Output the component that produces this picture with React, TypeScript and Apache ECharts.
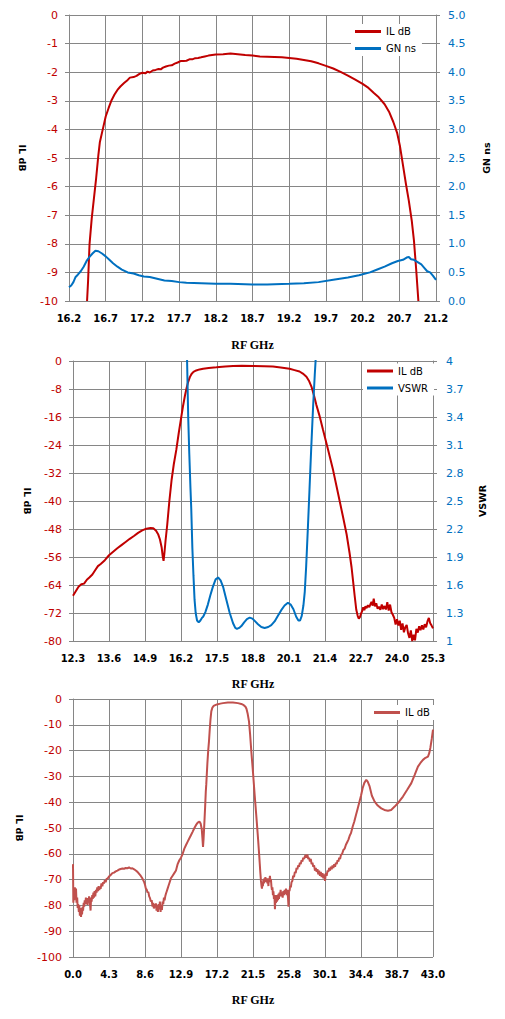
import React, { useEffect, useRef } from "react";
import * as echarts from "echarts";

// ---------- DATA ----------
// Chart 1: passband detail (RF GHz vs IL dB / group delay ns)
const topX0 = 16.2;
const topIL: [number, number][] = [
  [16.446, -10], [16.46, -9.3], [16.48, -8.0], [16.51, -7.1], [16.54, -6.4], [16.57, -5.7], [16.6, -4.9],
  [16.62, -4.45], [16.66, -4.0], [16.7, -3.55], [16.74, -3.25], [16.78, -2.98], [16.82, -2.78], [16.86, -2.62],
  [16.9, -2.5], [16.95, -2.38], [17.0, -2.27], [17.03, -2.19], [17.08, -2.17], [17.12, -2.13], [17.16, -2.06],
  [17.2, -2.02], [17.24, -2.04], [17.27, -1.98], [17.3, -2.01], [17.34, -1.94], [17.38, -1.92], [17.42, -1.89],
  [17.45, -1.9], [17.48, -1.84], [17.52, -1.8], [17.56, -1.77], [17.6, -1.76], [17.64, -1.7], [17.68, -1.66],
  [17.72, -1.61], [17.76, -1.61], [17.8, -1.6], [17.84, -1.55], [17.88, -1.55], [17.92, -1.51], [17.96, -1.5],
  [18.0, -1.48], [18.05, -1.45], [18.1, -1.42], [18.15, -1.4], [18.2, -1.38], [18.3, -1.37], [18.4, -1.35],
  [18.5, -1.37], [18.6, -1.4], [18.7, -1.42], [18.8, -1.45], [18.9, -1.46], [19.0, -1.47], [19.1, -1.48],
  [19.2, -1.5], [19.3, -1.53], [19.4, -1.57], [19.5, -1.62], [19.6, -1.69], [19.7, -1.78], [19.8, -1.87],
  [19.9, -1.99], [20.0, -2.12], [20.1, -2.26], [20.2, -2.41], [20.28, -2.55], [20.35, -2.72], [20.42, -2.88],
  [20.5, -3.12], [20.56, -3.38], [20.62, -3.75], [20.67, -4.12], [20.71, -4.6], [20.75, -5.25], [20.79, -5.9],
  [20.83, -6.5], [20.87, -7.2], [20.9, -7.9], [20.93, -8.9], [20.96, -10],
];
const topGN: [number, number][] = [
  [16.2, 0.24], [16.23, 0.27], [16.26, 0.33], [16.29, 0.42], [16.32, 0.46], [16.36, 0.52], [16.4, 0.6],
  [16.44, 0.7], [16.48, 0.77], [16.52, 0.83], [16.56, 0.88], [16.6, 0.87], [16.65, 0.83], [16.7, 0.78],
  [16.75, 0.72], [16.8, 0.66], [16.86, 0.6], [16.92, 0.55], [17.0, 0.5], [17.08, 0.48], [17.15, 0.45],
  [17.22, 0.43], [17.3, 0.42], [17.4, 0.39], [17.5, 0.36], [17.6, 0.35], [17.7, 0.33], [17.8, 0.32],
  [18.0, 0.31], [18.2, 0.3], [18.4, 0.3], [18.7, 0.29], [18.9, 0.29], [19.2, 0.3], [19.4, 0.31], [19.6, 0.33],
  [19.8, 0.37], [20.0, 0.41], [20.15, 0.45], [20.3, 0.5], [20.4, 0.55], [20.5, 0.6], [20.6, 0.66], [20.68, 0.7],
  [20.75, 0.72], [20.8, 0.76], [20.83, 0.77], [20.86, 0.73], [20.9, 0.72], [20.95, 0.68], [21.0, 0.64],
  [21.04, 0.58], [21.08, 0.52], [21.12, 0.5], [21.16, 0.44], [21.2, 0.37],
];

// Chart 2: wider span (RF GHz vs IL dB / VSWR)
const midX0 = 12.3;
const midVswrMin = 1;
const midIL: [number, number][] = [
  [12.3, -67.1], [12.4, -65.8], [12.5, -64.5], [12.6, -63.8], [12.7, -63.6], [12.8, -62.5], [12.9, -61.8],
  [13.0, -61.0], [13.1, -59.8], [13.2, -58.6], [13.3, -58.0], [13.45, -56.9], [13.6, -55.5], [13.75, -54.5],
  [13.9, -53.5], [14.05, -52.6], [14.2, -51.7], [14.35, -50.8], [14.5, -50.0], [14.65, -49.1], [14.8, -48.4],
  [14.95, -47.9], [15.1, -47.7], [15.2, -47.8], [15.3, -48.5], [15.38, -49.6], [15.44, -51], [15.5, -53.2],
  [15.54, -55.8], [15.57, -57.1], [15.6, -55.0], [15.64, -51.5], [15.7, -47], [15.78, -40], [15.86, -34],
  [15.94, -29.5], [16.03, -25.4], [16.12, -20.5], [16.2, -16.5], [16.27, -13.0], [16.34, -10], [16.4, -7.8],
  [16.45, -6.2], [16.52, -4.6], [16.58, -3.7], [16.65, -3.1], [16.75, -2.7], [16.87, -2.4], [17.0, -2.2],
  [17.2, -2.0], [17.48, -1.8], [17.8, -1.55], [18.08, -1.4], [18.4, -1.35], [18.8, -1.4], [19.2, -1.5],
  [19.52, -1.6], [19.8, -1.85], [20.12, -2.2], [20.3, -2.6], [20.48, -3.0], [20.6, -3.6], [20.73, -4.5],
  [20.83, -5.8], [20.91, -7.3], [21.0, -9.8], [21.09, -12.6], [21.2, -15.6], [21.33, -19.7], [21.5, -25],
  [21.69, -31.1], [21.87, -37.8], [22.05, -44.5], [22.18, -49.5], [22.29, -55], [22.36, -59], [22.41, -62.6],
  [22.47, -67], [22.53, -71.1], [22.58, -72.8], [22.62, -73.6], [22.66, -73.2], [22.7, -72.2], [22.74, -71.5],
  [22.78, -70.4], [22.82, -71.2], [22.86, -70.1], [22.9, -70.6], [22.95, -69.8], [23.0, -70.3], [23.04, -69.5],
  [23.08, -68.8], [23.12, -69.9], [23.16, -67.9], [23.2, -70.1], [23.25, -69.2], [23.3, -70.8], [23.35, -70.2],
  [23.4, -71.1], [23.45, -69.6], [23.5, -70.9], [23.55, -70.0], [23.6, -71.0], [23.65, -68.9], [23.7, -71.3],
  [23.75, -69.6], [23.8, -71.8], [23.85, -72.5], [23.9, -73.4], [23.95, -75.3], [24.0, -73.8], [24.05, -75.6],
  [24.1, -74.2], [24.15, -76.8], [24.2, -75.0], [24.25, -77.5], [24.3, -76.1], [24.35, -75.4], [24.4, -77.8],
  [24.45, -79.1], [24.5, -77.0], [24.55, -80], [24.6, -78.2], [24.65, -79.8], [24.7, -76.5], [24.75, -77.6],
  [24.8, -75.8], [24.85, -76.9], [24.9, -75.5], [24.95, -76.7], [25.0, -75.2], [25.05, -76.1], [25.1, -74.4],
  [25.15, -73.4], [25.2, -74.9], [25.25, -75.6], [25.3, -76.4],
];
const midVSWR: [number, number][] = [
  [16.38, 4.6], [16.42, 4.0], [16.46, 3.4], [16.5, 3.0], [16.54, 2.65], [16.57, 2.42], [16.61, 2.0],
  [16.65, 1.7], [16.69, 1.44], [16.73, 1.3], [16.78, 1.22], [16.84, 1.2], [16.9, 1.22], [16.96, 1.25],
  [17.0, 1.26], [17.08, 1.31], [17.17, 1.39], [17.26, 1.49], [17.35, 1.58], [17.45, 1.66], [17.54, 1.68],
  [17.63, 1.65], [17.72, 1.58], [17.84, 1.44], [17.96, 1.3], [18.08, 1.19], [18.16, 1.14], [18.22, 1.13],
  [18.3, 1.14], [18.38, 1.16], [18.48, 1.2], [18.58, 1.235], [18.68, 1.25], [18.78, 1.24], [18.88, 1.21],
  [18.98, 1.18], [19.1, 1.15], [19.22, 1.14], [19.35, 1.15], [19.46, 1.17], [19.58, 1.21], [19.7, 1.27],
  [19.82, 1.33], [19.94, 1.38], [20.06, 1.41], [20.16, 1.39], [20.26, 1.34], [20.36, 1.26], [20.44, 1.22],
  [20.5, 1.22], [20.56, 1.27], [20.62, 1.38], [20.67, 1.53], [20.72, 1.8], [20.78, 2.2], [20.84, 2.62],
  [20.9, 3.05], [20.97, 3.51], [21.03, 3.85], [21.06, 4.0], [21.1, 4.4],
];

// Chart 3: broadband 0-43 GHz IL dB
const botIL: [number, number][] = [
  [0, -64], [0.04, -79], [0.1, -74], [0.16, -78], [0.22, -73], [0.3, -76], [0.36, -73.5], [0.42, -79], [0.5, -77],
  [0.56, -81], [0.62, -79.5], [0.7, -82.5], [0.76, -80], [0.82, -84], [0.9, -82], [0.96, -84.5], [1.02, -81],
  [1.08, -83.5], [1.14, -80.5], [1.2, -82], [1.28, -79], [1.34, -80.5], [1.4, -78], [1.48, -79.5], [1.54, -77],
  [1.6, -78.8], [1.68, -77.2], [1.74, -79.8], [1.8, -77.5], [1.86, -78.5], [1.92, -76.5], [1.98, -78], [2.04, -80],
  [2.1, -82], [2.16, -77], [2.22, -78.5], [2.3, -76], [2.36, -77.5], [2.44, -75], [2.5, -77], [2.58, -74.5],
  [2.66, -76.5], [2.74, -74], [2.82, -75], [2.9, -73], [2.98, -74.5], [3.06, -72.5], [3.14, -74], [3.22, -72.8],
  [3.3, -73.6], [3.4, -71.5], [3.5, -72.6], [3.6, -71], [3.7, -71.5], [3.8, -70.3], [3.9, -71], [4.0, -69.8],
  [4.15, -69.5], [4.3, -68.8], [4.5, -68.2], [4.7, -67.5], [4.9, -67.3], [5.1, -66.8], [5.3, -66.5], [5.5, -66.1],
  [5.7, -65.9], [5.9, -65.7], [6.1, -65.8], [6.3, -65.5], [6.5, -65.6], [6.7, -65.3], [6.9, -65.7], [7.1, -65.6],
  [7.3, -66], [7.5, -66.5], [7.7, -67], [7.9, -67.8], [8.1, -68.6], [8.3, -69.6], [8.5, -71], [8.6, -72],
  [8.7, -73.5], [8.8, -73.8], [8.9, -75], [9.0, -74.8], [9.1, -76.5], [9.2, -77.2], [9.3, -78.5], [9.4, -78],
  [9.5, -80.5], [9.58, -79], [9.66, -81.2], [9.74, -79.5], [9.82, -80.8], [9.9, -79.2], [9.98, -82], [10.06, -80],
  [10.14, -82.5], [10.22, -79.5], [10.3, -81.5], [10.38, -78.5], [10.46, -82.5], [10.54, -80], [10.62, -81.8],
  [10.7, -78.5], [10.78, -79.5], [10.86, -77], [10.94, -78], [11.02, -76.5], [11.1, -75.5], [11.2, -74.5],
  [11.3, -73.5], [11.4, -72.5], [11.5, -71.5], [11.7, -69.5], [11.9, -68.5], [12.1, -67.5], [12.3, -66.5],
  [12.5, -64], [12.7, -62.5], [12.9, -61.5], [13.1, -60], [13.3, -58], [13.5, -56.6], [13.7, -55.3], [13.9, -54],
  [14.1, -52.7], [14.3, -51.4], [14.5, -50], [14.7, -48.8], [14.9, -47.9], [15.1, -47.5], [15.25, -48.3],
  [15.38, -50.5], [15.46, -54], [15.53, -57.3], [15.6, -54], [15.68, -48.8], [15.78, -42], [15.86, -36],
  [15.92, -33], [16.05, -25], [16.15, -20], [16.24, -16.5], [16.33, -12], [16.42, -8], [16.52, -4.8],
  [16.65, -3.3], [16.8, -2.7], [16.92, -2.5], [17.2, -2.1], [17.6, -1.8], [17.91, -1.6], [18.5, -1.4],
  [19.1, -1.4], [19.7, -1.6], [20.1, -1.9], [20.4, -2.4], [20.6, -3.0], [20.72, -3.8], [20.85, -5.5],
  [21.02, -8.7], [21.15, -13.5], [21.3, -20.3], [21.5, -28.5], [21.7, -37.2], [21.9, -45.5], [22.1, -54],
  [22.25, -61], [22.37, -67], [22.45, -70.5], [22.52, -72.5], [22.57, -73.5], [22.62, -71.5], [22.68, -72.5],
  [22.74, -70], [22.8, -71.5], [22.86, -69.5], [22.92, -71], [22.98, -69], [23.04, -70.5], [23.1, -70.8],
  [23.16, -69.5], [23.22, -71.5], [23.28, -70], [23.34, -72.5], [23.4, -69.5], [23.46, -71], [23.52, -68.5],
  [23.58, -70.5], [23.64, -69.8], [23.7, -72.5], [23.76, -74], [23.82, -73], [23.88, -76], [23.94, -74.5],
  [24.0, -77.5], [24.06, -76], [24.12, -81.5], [24.18, -77], [24.24, -79], [24.3, -76], [24.36, -78.5],
  [24.42, -76.5], [24.48, -78], [24.54, -75.5], [24.6, -77.5], [24.66, -75], [24.72, -76.5], [24.8, -74],
  [24.88, -76.5], [24.96, -75], [25.04, -77], [25.12, -74.5], [25.2, -76], [25.28, -74], [25.36, -75.5],
  [25.44, -73.5], [25.52, -76], [25.6, -74], [25.68, -77], [25.74, -80.5], [25.8, -74], [25.86, -74.5],
  [25.94, -72.5], [26.02, -73], [26.1, -71], [26.2, -70.5], [26.3, -68.5], [26.4, -69], [26.5, -67],
  [26.6, -67.5], [26.7, -65.5], [26.8, -66], [26.9, -64.5], [27.0, -65], [27.1, -63.5], [27.2, -64],
  [27.3, -62.5], [27.4, -63], [27.5, -61.5], [27.6, -62], [27.7, -61], [27.8, -60.5], [27.9, -61.5],
  [28.0, -60.3], [28.1, -62], [28.2, -61.5], [28.3, -63], [28.4, -62], [28.5, -64], [28.6, -63.5], [28.7, -65],
  [28.8, -64.5], [28.9, -66.5], [29.0, -65.5], [29.1, -67], [29.2, -66], [29.3, -68], [29.4, -66.5],
  [29.5, -68.5], [29.6, -67], [29.7, -69], [29.8, -67.5], [29.9, -69.5], [30.0, -68], [30.1, -70.5],
  [30.2, -67.5], [30.3, -68.5], [30.4, -66.5], [30.5, -67], [30.6, -65.5], [30.7, -66.5], [30.8, -65],
  [30.9, -66], [31.0, -64.5], [31.1, -65.5], [31.2, -64], [31.3, -65], [31.4, -63.5], [31.5, -64], [31.6, -62.5],
  [31.7, -63], [31.8, -61.5], [31.9, -62], [32.0, -60.5], [32.15, -60], [32.3, -58.5], [32.45, -58],
  [32.6, -56.5], [32.75, -55.5], [32.9, -54.5], [33.05, -53], [33.2, -52], [33.4, -49.5], [33.6, -47.5],
  [33.8, -45], [34.0, -42.5], [34.2, -40], [34.4, -37.5], [34.6, -34.5], [34.8, -32.5], [35.03, -31.3],
  [35.2, -32], [35.43, -33.9], [35.7, -37.5], [36.03, -39.8], [36.4, -41.3], [36.82, -42.4], [37.2, -43],
  [37.62, -43.3], [38.0, -43], [38.42, -41.7], [38.9, -40], [39.41, -37.8], [39.9, -35.3], [40.41, -32.6],
  [40.8, -29.5], [41.2, -26.2], [41.5, -24.8], [41.8, -23.6], [42.1, -22.8], [42.4, -22.3], [42.55, -21],
  [42.68, -19], [42.85, -15.5], [43.0, -11.9],
];

// ---------- STYLE ----------
const GRID = "#868686";
const RED = "#C00000";
const BLUE = "#0070C0";
const RED2 = "#C0504D";
const SANS = "DejaVu Sans";

const xAxisBase = (min: number, max: number, interval: number, fmt: (v: number) => string, nameGap: number) => ({
  type: "value",
  min,
  max,
  interval,
  name: "RF GHz",
  nameLocation: "middle",
  nameGap,
  nameTextStyle: { fontFamily: "Liberation Serif", fontWeight: "bold", fontSize: 12, color: "#000" },
  axisLine: { show: true, lineStyle: { color: GRID, width: 1 } },
  axisTick: { show: true, length: 4, lineStyle: { color: GRID } },
  splitLine: { show: true, lineStyle: { color: GRID, width: 1 } },
  axisLabel: { formatter: fmt, margin: 12, fontFamily: SANS, fontWeight: "bold", fontSize: 10, color: "#000" },
});

const yAxisBase = (
  min: number, max: number, interval: number, name: string, nameGap: number,
  color: string, position: "left" | "right", split: boolean, fmt?: (v: number) => string, margin = 11
) => ({
  type: "value",
  position,
  min,
  max,
  interval,
  name,
  nameLocation: "middle",
  nameGap,
  nameRotate: position === "left" ? -90 : 90,
  nameTextStyle: { fontFamily: SANS, fontWeight: "bold", fontSize: 9.5, color: "#000" },
  axisLine: { show: true, lineStyle: { color: GRID, width: 1 } },
  axisTick: { show: true, length: 4, lineStyle: { color: GRID } },
  splitLine: { show: split, lineStyle: { color: GRID, width: 1 } },
  axisLabel: { formatter: fmt, margin, fontFamily: SANS, fontSize: 11, color },
});

const legendBase = (left: number, top: number, data: string[]) => ({
  left,
  top,
  orient: "vertical",
  backgroundColor: "#fff",
  padding: [1, 6, 1, 4],
  itemWidth: 26,
  itemHeight: 3,
  itemGap: 4,
  icon: "rect",
  textStyle: { fontFamily: SANS, fontSize: 10, color: "#000", lineHeight: 13 },
  data,
});

const lineSeries = (name: string, data: [number, number][], color: string, yAxisIndex = 0) => ({
  name,
  type: "line",
  yAxisIndex,
  data,
  showSymbol: false,
  symbol: "none",
  clip: true,
  lineStyle: { color, width: 2 },
  itemStyle: { color },
});

const shift = (d: [number, number][], dx: number, dy = 0): [number, number][] =>
  d.map(([x, y]) => [x - dx, y - dy]);

const option1 = {
  animation: false,
  grid: { left: 69, top: 15, width: 367, height: 286, outerBoundsMode: "none", containLabel: false },
  legend: legendBase(351, 24, ["IL dB", "GN ns"]),
  xAxis: xAxisBase(0, 5, 0.5, (v: number) => (v + topX0).toFixed(1), 38),
  yAxis: [
    yAxisBase(-10, 0, 1, "IL dB", 42, RED, "left", true),
    yAxisBase(0, 5, 0.5, "GN ns", 45, BLUE, "right", false, (v: number) => v.toFixed(1), 12),
  ],
  series: [lineSeries("IL dB", shift(topIL, topX0), RED, 0), lineSeries("GN ns", shift(topGN, topX0), BLUE, 1)],
};

const option2 = {
  animation: false,
  grid: { left: 73, top: 21, width: 360, height: 280, outerBoundsMode: "none", containLabel: false },
  legend: legendBase(363, 23.5, ["IL dB", "VSWR"]),
  xAxis: xAxisBase(0, 13, 1.3, (v: number) => (v + midX0).toFixed(1), 37),
  yAxis: [
    yAxisBase(-80, 0, 8, "IL dB", 41, RED, "left", true),
    yAxisBase(0, 3, 0.3, "VSWR", 44, BLUE, "right", false,
      (v: number) => String(parseFloat((v + midVswrMin).toFixed(1))), 13),
  ],
  series: [
    lineSeries("IL dB", shift(midIL, midX0), RED, 0),
    lineSeries("VSWR", shift(midVSWR, midX0, midVswrMin), BLUE, 1),
  ],
};

const option3 = {
  animation: false,
  grid: { left: 73, top: 14, width: 360, height: 258, outerBoundsMode: "none", containLabel: false },
  legend: legendBase(370, 20, ["IL dB"]),
  xAxis: xAxisBase(0, 43, 4.3, (v: number) => v.toFixed(1), 37),
  yAxis: [yAxisBase(-100, 0, 10, "IL dB", 49, RED, "left", true)],
  series: [lineSeries("IL dB", botIL, RED2, 0)],
};

function Chart({ option, top, height, z }: { option: any; top: number; height: number; z: number }) {
  const ref = useRef<HTMLDivElement>(null);
  useEffect(() => {
    if (!ref.current) return;
    const chart = echarts.init(ref.current, undefined, { renderer: "svg" });
    chart.setOption(option);
    return () => chart.dispose();
  }, [option]);
  return <div ref={ref} style={{ position: "absolute", left: 0, top, width: 505, height, zIndex: z }} />;
}

export default function App() {
  return (
    <div style={{ position: "fixed", left: 0, top: 0, width: 505, height: 1019, background: "#fff" }}>
      <Chart option={option1} top={0} height={360} z={3} />
      <Chart option={option2} top={340} height={365} z={2} />
      <Chart option={option3} top={685} height={334} z={1} />
    </div>
  );
}
